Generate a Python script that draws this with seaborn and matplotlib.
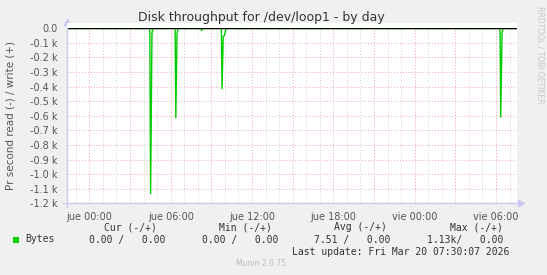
import matplotlib
matplotlib.use("Agg")
import matplotlib.pyplot as plt
import seaborn as sns
import pandas as pd
from matplotlib.patches import Rectangle

# ---- data (hours relative to Thu 00:00, bytes/s; read shown negative) ----
hours = [-1.67, 4.46, 4.52, 4.62, 4.70, 6.33, 6.38, 6.47, 6.55, 8.25, 8.29, 8.33,
         9.74, 9.79, 9.88, 9.97, 10.05, 10.12, 30.30, 30.35, 30.45, 30.53, 31.53]
read_neg = [0, 0, -1133, -35, 0, 0, -613, -40, 0, 0, -15, 0,
            0, -413, -55, -50, -15, 0, 0, -608, -30, 0, 0]
write_pos = [0] * len(hours)

ytick_vals = [0, -100, -200, -300, -400, -500, -600, -700, -800, -900, -1000, -1100, -1200]
ytick_labels = ["0.0", "-0.1 k", "-0.2 k", "-0.3 k", "-0.4 k", "-0.5 k", "-0.6 k",
                "-0.7 k", "-0.8 k", "-0.9 k", "-1.0 k", "-1.1 k", "-1.2 k"]
xtick_vals = [0, 6, 12, 18, 24, 30]
xtick_labels = ["jue 00:00", "jue 06:00", "jue 12:00", "jue 18:00", "vie 00:00", "vie 06:00"]

legend_headers = ["Cur (-/+)", "Min (-/+)", "Avg (-/+)", "Max (-/+)"]
legend_values = ["0.00 /   0.00", "0.00 /   0.00", "7.51 /   0.00", "1.13k/   0.00"]
series_name = "Bytes"
last_update = "Last update: Fri Mar 20 07:30:07 2026"
title = "Disk throughput for /dev/loop1 - by day"

W, H = 547, 275
BG = "#f0f0f0"
GREEN = "#00cc00"
AXC = "#c8c8f0"

sns.set_style("white")
plt.rcParams["font.family"] = ["DejaVu Sans"]

fig = plt.figure(figsize=(W / 100, H / 100), dpi=100, facecolor=BG)
L, R, T, B = 66.7, 516.7, 28.3, 203.3
ax = fig.add_axes([L / W, 1 - B / H, (R - L) / W, (B - T) / H])
ax.set_facecolor("white")

x0, x1 = -1.67, 31.53
ax.set_xlim(x0, x1)
ax.set_ylim(-1200, 0)

# grid
for h in range(-1, 32):
    if h % 3 == 0:
        continue
    ax.axvline(h, color="#cfcfcf", lw=0.7, ls=(0, (1, 2)), zorder=1)
for h in range(0, 32, 3):
    ax.axvline(h, color="#eba8a8", lw=0.7, ls=(0, (1, 2)), zorder=1)
for v in ytick_vals[1:]:
    ax.axhline(v, color="#eba8a8", lw=0.7, ls=(0, (1, 2)), zorder=1)

df = pd.DataFrame({"hours": hours, "read": read_neg, "write": write_pos})
sns.lineplot(data=df, x="hours", y="write", ax=ax, color=GREEN, lw=1.0,
             estimator=None, sort=False, zorder=3)
sns.lineplot(data=df, x="hours", y="read", ax=ax, color=GREEN, lw=1.0,
             estimator=None, sort=False, zorder=3)
ax.axhline(0, color="black", lw=1.0, zorder=4)
ax.set_xlabel("")
ax.set_ylabel("")

# ticks
ax.set_yticks(ytick_vals)
ax.set_yticklabels(ytick_labels)
ax.set_xticks(xtick_vals)
ax.set_xticklabels(xtick_labels)
ax.tick_params(axis="y", length=3, width=0.7, color="#eba8a8", pad=3.5,
               labelsize=7, labelcolor="#555555")
ax.tick_params(axis="x", length=3, width=0.7, color="#eba8a8", pad=3,
               labelsize=7, labelcolor="#555555")
for s in ["top", "right", "left", "bottom"]:
    ax.spines[s].set_visible(False)

# axis lines with arrows (rrdtool style)
ax.plot([x0, x0], [-1225, 40], color=AXC, lw=1, clip_on=False, zorder=5)
ax.plot([x0 - 0.3, x1 + 0.3], [-1200, -1200], color=AXC, lw=1, clip_on=False, zorder=5)
ax.plot([x0], [45], marker="^", ms=5, color=AXC, clip_on=False, zorder=5)
ax.plot([x1 + 0.35], [-1200], marker=">", ms=5, color=AXC, clip_on=False, zorder=5)

# white band above the zero line
fig.patches.append(Rectangle((L / W, 1 - T / H), (R - L) / W, 5 / H,
                             transform=fig.transFigure, facecolor="white",
                             edgecolor="none", zorder=0))

# texts
fig.text(261 / W, 1 - 18 / H, title, ha="center", va="center", fontsize=9,
         color="#333333")
fig.text(11 / W, 1 - 115 / H, "Pr second read (-) / write (+)", rotation=90,
         ha="center", va="center", fontsize=7.5, color="#555555")
fig.text(540 / W, 1 - 55 / H, "RRDTOOL / TOBI OETIKER", rotation=270,
         ha="center", va="center", fontsize=5.5, color="#c8c8c8")

mono = "DejaVu Sans Mono"
hdr_right = [157, 272, 387, 503]
val_right = [165, 278, 390, 503]
for txt, xr in zip(legend_headers, hdr_right):
    fig.text(xr / W, 1 - 227.5 / H, txt, ha="right", va="center", fontsize=7,
             family=mono, color="#333333")
for txt, xr in zip(legend_values, val_right):
    fig.text(xr / W, 1 - 239.5 / H, txt, ha="right", va="center", fontsize=7,
             family=mono, color="#333333")
fig.patches.append(Rectangle((13 / W, 1 - 243 / H), 6 / W, 6 / H,
                             transform=fig.transFigure, facecolor=GREEN,
                             edgecolor="none"))
fig.text(25 / W, 1 - 239.5 / H, series_name, ha="left", va="center", fontsize=7,
         family=mono, color="#333333")
fig.text(509 / W, 1 - 251.7 / H, last_update, ha="right", va="center", fontsize=7,
         family=mono, color="#333333")
fig.text(261 / W, 1 - 264 / H, "Munin 2.0.75", ha="center", va="center",
         fontsize=5.5, color="#bbbbbb")

fig.savefig("out.png", dpi=100, facecolor=BG)
